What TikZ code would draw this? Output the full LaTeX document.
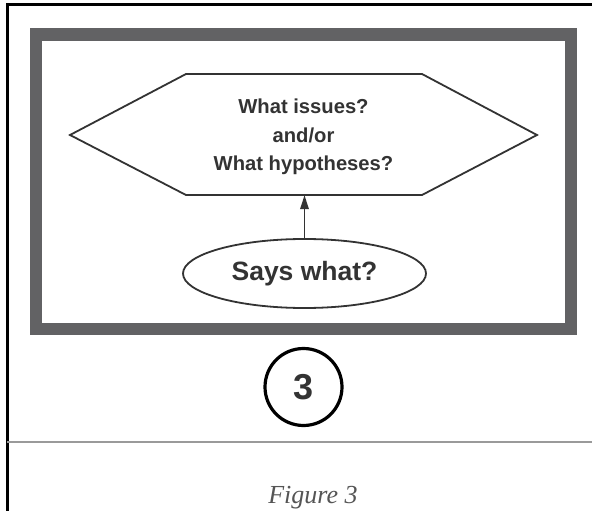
\documentclass[tikz,border=0pt]{standalone}
\usepackage{fontspec}
\setmainfont{Liberation Serif}
\setsansfont{Liberation Sans}
\usetikzlibrary{shapes.geometric,arrows.meta}
\definecolor{framegray}{HTML}{626264}
\definecolor{inkgray}{HTML}{333333}
\definecolor{rulegray}{HTML}{9A9A9A}
\definecolor{capgray}{HTML}{555555}
\tikzset{
  hexshape/.style={draw=inkgray, line width=1.8pt, line join=miter},
  hexlabel/.style={font=\sffamily\bfseries\fontsize{20.2}{28.5}\selectfont, text=inkgray, align=center, inner sep=0pt},
  ellnode/.style={ellipse, draw=inkgray, line width=1.8pt, minimum width=243pt, minimum height=69pt, inner sep=0pt,
     font=\sffamily\bfseries\fontsize{26.5}{30}\selectfont, text=inkgray},
  numcircle/.style={circle, draw=black, line width=3.2pt, minimum size=77pt, inner sep=0pt,
     font=\sffamily\bfseries\fontsize{36}{40}\selectfont, text=inkgray},
  connector/.style={draw=inkgray, line width=1.8pt, -{Triangle[length=14pt,width=8.5pt]}},
}
\begin{document}
\begin{tikzpicture}[x=1pt,y=-1pt]
\useasboundingbox (0,0) rectangle (592,511);
\fill[white] (0,0) rectangle (592,511);
% outer black frame
\draw[black, line width=3pt] (7,511) -- (7,5) -- (592,5);
% separator rule
\draw[rulegray, line width=2.2pt] (7,442) -- (592,442);
% thick gray frame
\draw[framegray, line width=12.5pt] (36,34.3) rectangle (571,329);
% hexagon
\coordinate (h1) at (70,135);
\coordinate (h2) at (186,74);
\coordinate (h3) at (422,74);
\coordinate (h4) at (537,135);
\coordinate (h5) at (422,195);
\coordinate (h6) at (186,195);
\draw[hexshape] (h1) -- (h2) -- (h3) -- (h4) -- (h5) -- (h6) -- cycle;
\node[minimum width=467pt, minimum height=121pt, inner sep=0pt] (hex) at (303.5,134.5) {};
\node[hexlabel] (hextext) at (303.5,137) {What issues?\\and/or\\What hypotheses?};
% ellipse
\node[ellnode] (ell) at (304.5,273.5) {Says what?};
\draw[connector] (ell.north) -- (ell.north |- hex.south);
% numbered circle
\node[numcircle] (num) at (303.5,387) {3};
% caption
\node[anchor=base, inner sep=0pt, text=capgray, font=\itshape\fontsize{26}{30}\selectfont] (cap) at (313,503) {Figure 3};
\end{tikzpicture}
\end{document}
